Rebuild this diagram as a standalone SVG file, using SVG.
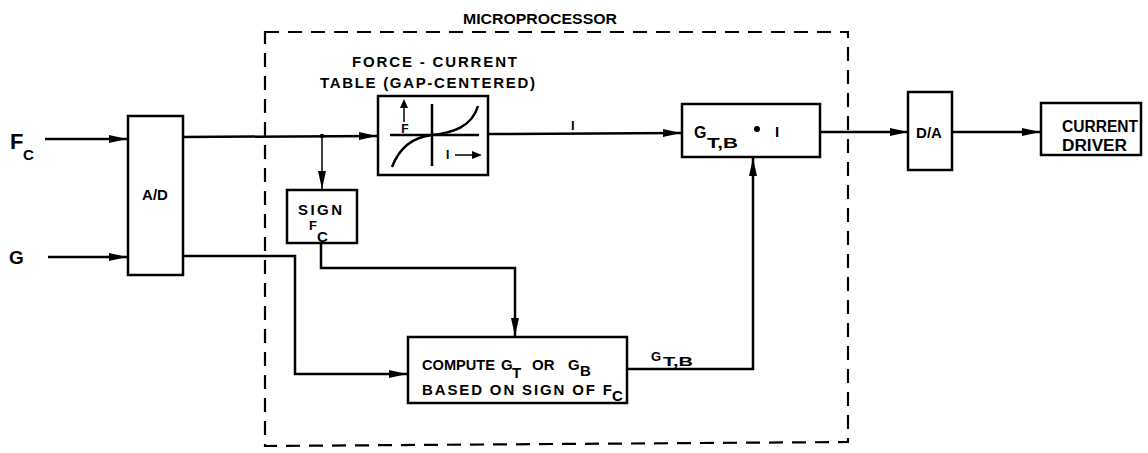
<svg xmlns="http://www.w3.org/2000/svg" width="1148" height="453" viewBox="0 0 1148 453">
<defs>
<style>
.box{fill:#fff;stroke:#000;stroke-width:2.5}
.ln{fill:none;stroke:#000;stroke-width:2.5}
.thin{fill:none;stroke:#000;stroke-width:1.5}
.dash{fill:none;stroke:#000;stroke-width:2.2;stroke-dasharray:14 9}
text{font-family:"Liberation Sans",Arial,sans-serif;font-weight:bold;fill:#000}
</style>
<marker id="ah" markerUnits="userSpaceOnUse" markerWidth="20" markerHeight="10" refX="18" refY="4" orient="auto">
<path d="M0,0 L18,4 L0,8 z" fill="#000"/>
</marker>
</defs>
<rect width="1148" height="453" fill="#fff"/>

<g id="microprocessor">
<path class="dash" d="M265,32 L848,32 L848,442 L265,446 Z"/>
<text x="463" y="24" font-size="14" textLength="154" lengthAdjust="spacingAndGlyphs">MICROPROCESSOR</text>
</g>

<g id="connectors">
<line class="ln" x1="45" y1="139" x2="127" y2="139" marker-end="url(#ah)"/>
<line class="ln" x1="48" y1="257" x2="127" y2="257" marker-end="url(#ah)"/>
<line class="ln" x1="183" y1="137" x2="377" y2="136" marker-end="url(#ah)"/>
<circle cx="322" cy="136" r="2.2" fill="#000"/>
<line class="thin" x1="322" y1="136" x2="322" y2="189" marker-end="url(#ah)"/>
<polyline class="ln" points="183,256 295,256 295,374 407,374" marker-end="url(#ah)"/>
<polyline class="ln" points="321,243 321,268 515,268 515,336" marker-end="url(#ah)"/>
<line class="ln" x1="488" y1="134" x2="681" y2="133" marker-end="url(#ah)"/>
<polyline class="ln" points="627,369 753,369 753,158" marker-end="url(#ah)"/>
<line class="ln" x1="820" y1="132" x2="908" y2="132" marker-end="url(#ah)"/>
<line class="ln" x1="952" y1="132" x2="1040" y2="132" marker-end="url(#ah)"/>
<text x="571" y="130" font-size="13">I</text>
<text x="651" y="361" font-size="13">G</text>
<text x="663" y="366" font-size="13" textLength="30" lengthAdjust="spacingAndGlyphs">T,B</text>
</g>

<g id="input-fc">
<text x="10" y="149" font-size="22">F</text>
<text x="23" y="160" font-size="15">C</text>
</g>
<g id="input-g">
<text x="9" y="264" font-size="19">G</text>
</g>

<g id="ad">
<rect class="box" x="128" y="116" width="55" height="159"/>
<text x="155" y="200" font-size="15" text-anchor="middle">A/D</text>
</g>

<g id="table">
<text x="352" y="67" font-size="15" textLength="165" lengthAdjust="spacing">FORCE - CURRENT</text>
<text x="320" y="88" font-size="15" textLength="215" lengthAdjust="spacing">TABLE (GAP-CENTERED)</text>
<rect class="box" x="378" y="96" width="110" height="79"/>
<line class="ln" x1="390" y1="135" x2="479" y2="135"/>
<line class="ln" x1="432" y1="104" x2="432" y2="166"/>
<path class="ln" d="M392,167 C400,146 414,137 432,135 C452,133 472,127 478,106"/>
<line class="thin" x1="404" y1="122" x2="404" y2="106"/>
<path d="M400,108 L404,99 L408,108 Z" fill="#000"/>
<text x="405" y="133" font-size="12" text-anchor="middle">F</text>
<text x="446" y="159" font-size="12">I</text>
<line class="thin" x1="455" y1="155" x2="474" y2="155"/>
<path d="M472,151 L482,155 L472,159 Z" fill="#000"/>
</g>

<g id="sign">
<rect class="box" x="287" y="190" width="70" height="53"/>
<text x="320" y="215" font-size="15" text-anchor="middle" textLength="44" lengthAdjust="spacing">SIGN</text>
<text x="309" y="230" font-size="13">F</text>
<text x="317" y="242" font-size="15">C</text>
</g>

<g id="compute">
<rect class="box" x="408" y="337" width="219" height="66"/>
<text y="370" font-size="15"><tspan x="422" textLength="73" lengthAdjust="spacingAndGlyphs">COMPUTE</tspan><tspan x="501">G</tspan><tspan x="512" y="378">T</tspan><tspan x="532" y="370">OR</tspan><tspan x="568">G</tspan><tspan x="580" y="376">B</tspan></text>
<text y="395" font-size="15"><tspan x="422" textLength="190" lengthAdjust="spacing">BASED ON SIGN OF F</tspan><tspan x="612" y="401">C</tspan></text>
</g>

<g id="multiply">
<rect class="box" x="682" y="104" width="138" height="53"/>
<text x="694" y="138" font-size="16">G</text>
<text x="707" y="148" font-size="15" textLength="31" lengthAdjust="spacingAndGlyphs">T,B</text>
<circle cx="757" cy="129" r="3" fill="#000"/>
<text x="775" y="137" font-size="15">I</text>
</g>

<g id="da">
<rect class="box" x="908" y="92" width="44" height="78"/>
<text x="929" y="138" font-size="15" text-anchor="middle">D/A</text>
</g>

<g id="driver">
<rect class="box" x="1041" y="103" width="100" height="52"/>
<text x="1062" y="132" font-size="16" textLength="76" lengthAdjust="spacingAndGlyphs">CURRENT</text>
<text x="1062" y="151" font-size="16" textLength="65" lengthAdjust="spacingAndGlyphs">DRIVER</text>
</g>
</svg>
